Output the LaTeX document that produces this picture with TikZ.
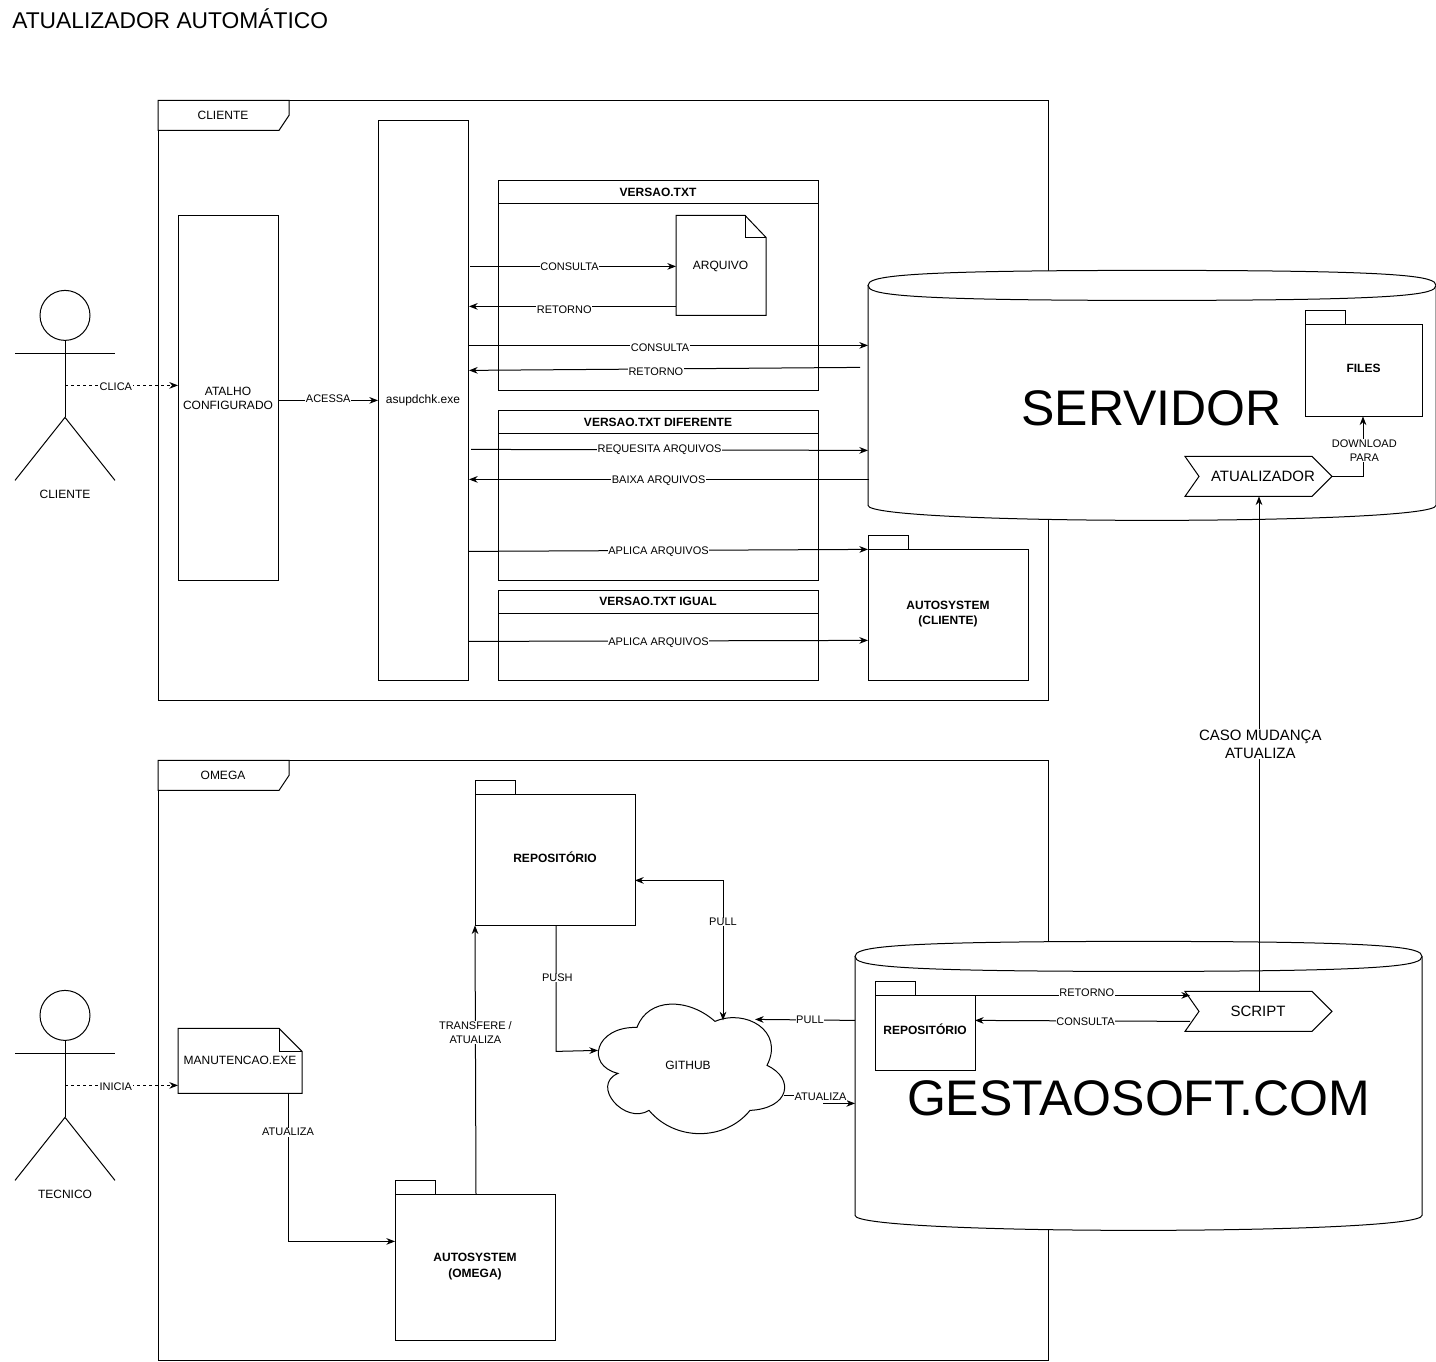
\documentclass[tikz,border=0pt]{standalone}
\usepackage{fontspec}
\setmainfont{Liberation Sans}
\usetikzlibrary{arrows.meta}
\tikzset{
  x=0.75pt,y=-0.75pt,
  every node/.style={font=\fontsize{9}{11}\selectfont,inner sep=1pt,align=center},
  shp/.style={draw=black,fill=white,line width=0.75pt},
  ln/.style={draw=black,line width=0.75pt},
  tip/.style={-{Stealth[length=6.5pt,width=5pt]}},
  conn/.style={draw=black,line width=0.75pt,tip},
  dconn/.style={conn,dash pattern=on 2.25pt off 2.25pt},
  lab/.style={fill=white,inner sep=0.4pt,font=\fontsize{8.25}{10.5}\selectfont,yshift=-0.75pt},
  boldt/.style={font=\fontsize{9}{11.5}\selectfont\bfseries},
  big/.style={font=\fontsize{11.25}{13.5}\selectfont},
  huge/.style={font=\fontsize{37.5}{44}\selectfont},
}
\newcommand{\actorfig}[3]{%
  \node[shp,circle,minimum size=37.5pt,inner sep=0pt] (#1head) at (65,#2+25) {};
  \draw[ln] (65,#2+50) -- (65,#2+127);
  \draw[ln] (15,#2+63) -- (115,#2+63);
  \draw[ln] (15,#2+190) -- (65,#2+127) -- (115,#2+190);
  \coordinate (#1) at (65,#2+95);
  \node (#1lab) at (65,#2+204) {#3};
}
\newcommand{\pkg}[8]{% name x1 y1(tab top) x2 y2 bodytop label labelyoffset
  \draw[shp] (#2,#6) rectangle (#4,#5);
  \draw[shp] (#2,#3) -- (#2+40,#3) -- (#2+40,#6) -- (#2,#6) -- cycle;
  \node[boldt] (#1) at ({(#2+#4)/2},{(#6+#5)/2+#8}) {#7};
}
\newcommand{\cyl}[5]{% x1 ytop x2 ybot ry
  \draw[shp] (#1,#2) -- (#1,#4) .. controls (#1,#4+#5*1.33) and (#3,#4+#5*1.33) .. (#3,#4) -- (#3,#2);
  \draw[shp] ({(#1+#3)/2},#2-#5) .. controls (#1+0.05*#3-0.05*#1,#2-#5) and (#1,#2-#5*0.6) .. (#1,#2)
     .. controls (#1,#2+#5*0.6) and (#1+0.05*#3-0.05*#1,#2+#5) .. ({(#1+#3)/2},#2+#5)
     .. controls (#3-0.05*#3+0.05*#1,#2+#5) and (#3,#2+#5*0.6) .. (#3,#2)
     .. controls (#3,#2-#5*0.6) and (#3-0.05*#3+0.05*#1,#2-#5) .. ({(#1+#3)/2},#2-#5) -- cycle;
}
\begin{document}
\begin{tikzpicture}
\useasboundingbox (0,0) rectangle (1436,1362);
\fill[white] (0,0) rectangle (1436,1362);
\begin{scope}[yshift=-0.3pt]
\node[anchor=west,inner sep=0pt,font=\fontsize{17.1}{20}\selectfont] (title) at (12,18) {ATUALIZADOR AUTOMÁTICO};

% frames
\draw[shp] (158,100) rectangle (1048,700);
\draw[shp] (158,100) -- (289,100) -- (289,115) -- (279,130) -- (158,130) -- cycle;
\node (clientetab) at (223,115) {CLIENTE};
\draw[shp] (158,760) rectangle (1048,1360);
\draw[shp] (158,760) -- (289,760) -- (289,775) -- (279,790) -- (158,790) -- cycle;
\node (omegatab) at (223,775) {OMEGA};

% actors
\actorfig{cliente}{290}{CLIENTE}
\actorfig{tecnico}{990}{TECNICO}

% client boxes
\node[shp,minimum width=75pt,minimum height=273.75pt,inner sep=0pt] (atalho) at (228,398) {ATALHO\\CONFIGURADO};
\node[shp,minimum width=67.5pt,minimum height=420pt,inner sep=0pt] (asup) at (423,400) {asupdchk.exe};

\draw[shp] (498,180) rectangle (818,390);
\draw[shp] (498,180) rectangle (818,203);
\node[boldt] (v1) at (658,192) {VERSAO.TXT};
\draw[shp] (498,410) rectangle (818,580);
\draw[shp] (498,410) rectangle (818,433);
\node[boldt] (v2) at (658,422) {VERSAO.TXT DIFERENTE};
\draw[shp] (498,590) rectangle (818,680);
\draw[shp] (498,590) rectangle (818,613);
\node[boldt] (v3) at (658,601) {VERSAO.TXT IGUAL};

% arquivo
\draw[shp] (676,215) -- (745,215) -- (766,237) -- (766,315) -- (676,315) -- cycle;
\draw[ln] (745,215) -- (745,237) -- (766,237);
\node (arq) at (720.5,266) {ARQUIVO};
\coordinate (arqL) at (676,266);
\coordinate (arqR) at (676,306);

% servidor
\cyl{868}{285}{1436}{505}{15}
\node[huge] (serv) at (1151.5,408) {SERVIDOR};
\pkg{files}{1305}{310}{1422}{416}{324}{FILES}{-2}
\draw[shp] (1185,456) -- (1312,456) -- (1332,476) -- (1312,496) -- (1185,496) -- (1199,476) -- cycle;
\node[big] (atual) at (1263,476) {ATUALIZADOR};
\coordinate (atualR) at (1332,476);
\coordinate (atualB) at (1259,496);

% autosystem cliente
\pkg{autoc}{868}{535}{1028}{680}{549}{AUTOSYSTEM\\(CLIENTE)}{-1}

% omega
\pkg{repo}{475}{780}{635}{925}{794}{REPOSITÓRIO}{-2.5}
\pkg{autoo}{395}{1180}{555}{1340}{1194}{AUTOSYSTEM\\(OMEGA)}{-1}
\draw[shp] (178,1028) -- (279,1028) -- (302,1051) -- (302,1093) -- (178,1093) -- cycle;
\draw[ln] (279,1028) -- (279,1051) -- (302,1051);
\node (manu) at (240,1060) {MANUTENCAO.EXE};

% github
\draw[shp] (637,1027) .. controls (648,997) and (688,997) .. (715,1021)
  .. controls (745,1008) and (785,1030) .. (767,1065)
  .. controls (795,1078) and (790,1108) .. (750,1110)
  .. controls (725,1141) and (675,1141) .. (649,1110)
  .. controls (625,1125) and (590,1085) .. (618,1073)
  .. controls (585,1065) and (595,1026) .. (637,1027) -- cycle;
\node (git) at (688,1065) {GITHUB};
\coordinate (gitL) at (598,1050);
\coordinate (gitT) at (723,1020);
\coordinate (gitR) at (755,1019);
\coordinate (gitE) at (784,1095);

% gestaosoft
\cyl{855}{956}{1422}{1215}{15}
\node[huge] (gest) at (1138.5,1098) {GESTAOSOFT.COM};
\pkg{repog}{875}{981}{975}{1070}{995}{REPOSITÓRIO}{-3.5}
\draw[shp] (1185,991) -- (1312,991) -- (1332,1011) -- (1312,1031) -- (1185,1031) -- (1199,1011) -- cycle;
\node[big] (script) at (1258,1011) {SCRIPT};

% connectors
\draw[dconn] (cliente) -- node[lab,pos=.45]{CLICA} (178,385);
\draw[dconn] (tecnico) -- node[lab,pos=.45]{INICIA} (178,1085);
\draw[conn] (278.5,400) -- node[lab,pos=.5,yshift=2.25pt]{ACESSA} (378,400);

\draw[conn] (470,266) -- node[lab,pos=.483,yshift=.75pt]{CONSULTA} (arqL);
\draw[conn] (arqR) -- node[lab,pos=.54,yshift=-2pt]{RETORNO} (469,306);
\draw[conn] (469,345) -- node[lab,pos=.479,yshift=-.75pt]{CONSULTA} (868,345);
\draw[conn] (860,367) -- node[lab,pos=.522,yshift=-1.5pt]{RETORNO} (469,370);
\draw[conn] (471,449) -- node[lab,pos=.475,yshift=0.75pt]{REQUESITA ARQUIVOS} (868,450);
\draw[conn] (869,479) -- node[lab,pos=.526]{BAIXA ARQUIVOS} (469,479);
\draw[conn] (469,551) -- node[lab,pos=.475]{APLICA ARQUIVOS} (868,549);
\draw[conn] (469,641) -- node[lab,pos=.475,yshift=-.75pt]{APLICA ARQUIVOS} (868,640);

\draw[conn] (atualR) -- (1363,476) -- node[lab,pos=.45,xshift=1pt]{DOWNLOAD\\PARA} (1363,416);
\coordinate (scriptT) at (1259,991);
\draw[conn] (scriptT) -- node[lab,pos=.5,big,xshift=1pt,yshift=0.75pt]{CASO MUDANÇA\\ATUALIZA} (atualB);

\draw[conn] (240,1093) -- (288,1093) -- node[lab,pos=.255]{ATUALIZA} (288,1241) -- (395,1241);
\draw[conn] (476,1194) -- node[lab,pos=.604]{TRANSFERE /\\ATUALIZA} (475,925);
\draw[conn] (556,925) -- node[lab,pos=.41,xshift=1pt]{PUSH} (556,1051) -- (gitL);
\draw[conn,{Stealth[length=6.5pt,width=5pt]}-{Stealth[length=6.5pt,width=5pt]}] (635,880) -- (723,880) -- node[lab,pos=.29]{PULL} (gitT);
\draw[conn] (855,1020) -- node[lab,pos=.45,yshift=.75pt]{PULL} (gitR);
\draw[conn] (gitE) -- (823,1095) -- (823,1103) -- (855,1103);
\node[lab,inner ysep=1.5pt] (atl) at (820.5,1095.5) {ATUALIZA};
\draw[conn] (975,995) -- node[lab,pos=.52,yshift=3pt]{RETORNO} (1190,995);
\draw[conn] (1190,1021) -- node[lab,pos=.486]{CONSULTA} (975,1020);
\end{scope}
\end{tikzpicture}
\end{document}
